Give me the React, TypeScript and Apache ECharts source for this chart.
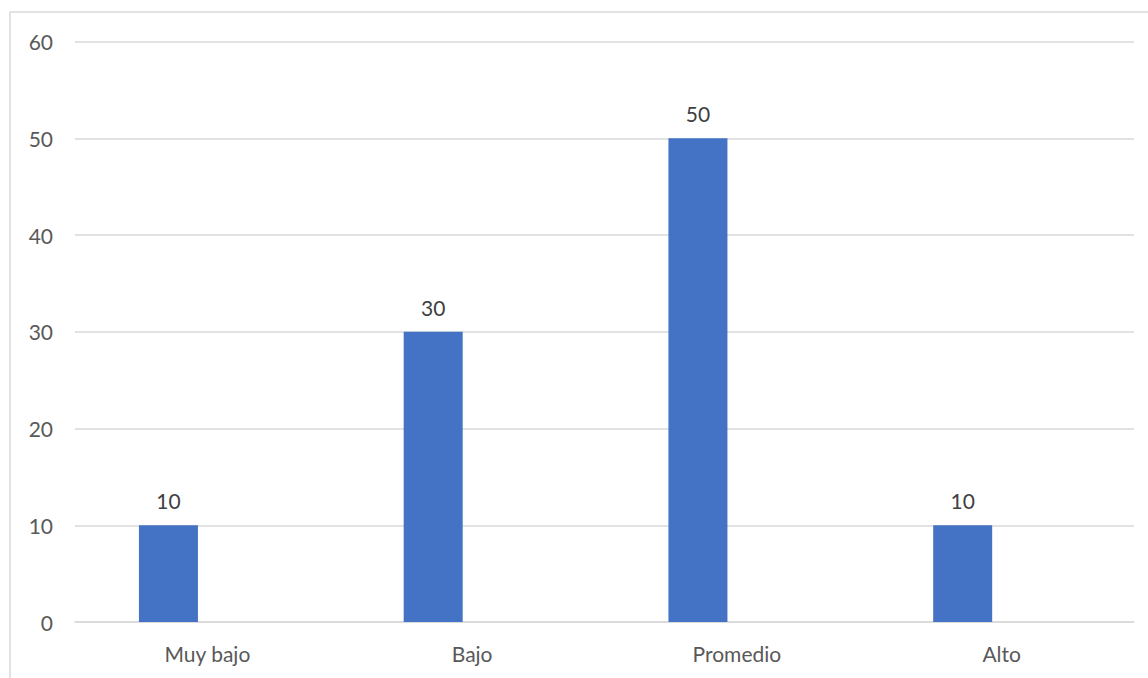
import React, { useEffect, useRef } from "react";
import * as echarts from "echarts";

const categories = ["Muy bajo", "Bajo", "Promedio", "Alto"];
const values = [10, 30, 50, 10];
const emptySeries = [null, null, null, null];

export default function App() {
  const ref = useRef<HTMLDivElement>(null);
  useEffect(() => {
    if (!ref.current) return;
    const chart = echarts.init(ref.current, null, { renderer: "svg" });
    chart.setOption({
      animation: false,
      backgroundColor: "#ffffff",
      textStyle: { fontFamily: "Lato, 'Open Sans', sans-serif" },
      graphic: [
        {
          type: "rect",
          shape: { x: 10, y: 12, width: 1200, height: 700 },
          style: { fill: "none", stroke: "#d9d9d9", lineWidth: 1.5 },
          silent: true,
        },
      ],
      grid: { left: 75, right: 14, top: 41.5, bottom: 56 },
      xAxis: {
        type: "category",
        data: categories,
        axisLine: { show: true, lineStyle: { color: "#d9d9d9", width: 1.5 } },
        axisTick: { show: false },
        axisLabel: { color: "#595959", fontSize: 21, margin: 21 },
      },
      yAxis: {
        type: "value",
        min: 0,
        max: 60,
        interval: 10,
        axisLine: { show: false },
        axisTick: { show: false },
        axisLabel: { color: "#595959", fontSize: 21, margin: 22 },
        splitLine: { lineStyle: { color: "#d9d9d9", width: 1.5 } },
      },
      series: [
        {
          type: "bar",
          data: values,
          barWidth: 59,
          barGap: "32%",
          itemStyle: { color: "#4472C4" },
          label: {
            show: true,
            position: "top",
            distance: 14,
            color: "#404040",
            fontSize: 21,
          },
        },
        {
          type: "bar",
          data: emptySeries,
          barWidth: 59,
          itemStyle: { color: "#ED7D31" },
        },
      ],
    });
    return () => chart.dispose();
  }, []);
  return (
    <div
      ref={ref}
      style={{ position: "absolute", left: 0, top: 0, width: 1148, height: 678 }}
    />
  );
}
